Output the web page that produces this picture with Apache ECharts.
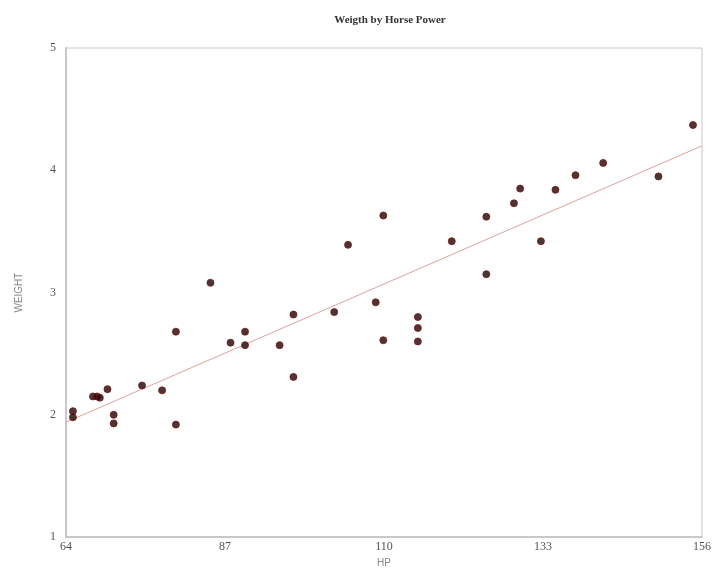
<!DOCTYPE html>
<html>
<head>
<meta charset="utf-8">
<script src="https://cdn.jsdelivr.net/npm/echarts@6/dist/echarts.min.js"></script>
<style>
  html, body { margin: 0; padding: 0; background: #fff; }
  #chart { width: 714px; height: 573px; }
</style>
</head>
<body>
<div id="chart"></div>
<script>
// HP vs weight (thousands of lbs)
const hp = [65, 65, 67.9, 68.5, 68.9, 70, 70.9, 70.9, 75, 77.9, 79.9, 79.9, 84.9, 87.8, 89.9, 89.9,
  94.9, 96.9, 96.9, 102.8, 104.8, 108.8, 109.9, 109.9, 114.9, 114.9, 114.9, 119.8, 124.8, 124.8,
  128.8, 129.7, 132.7, 134.8, 137.7, 141.7, 149.7, 154.7];
const weight = [2.03, 1.98, 2.15, 2.15, 2.14, 2.21, 2.0, 1.93, 2.24, 2.2, 2.68, 1.92, 3.08, 2.59, 2.68, 2.57,
  2.57, 2.82, 2.31, 2.84, 3.39, 2.92, 3.63, 2.61, 2.8, 2.71, 2.6, 3.42, 3.62, 3.15,
  3.73, 3.85, 3.42, 3.84, 3.96, 4.06, 3.95, 4.37];
// fitted line end points as drawn
const fitHp = [64, 156];
const fitWeight = [1.94, 4.2];
const xTicks = [64, 87, 110, 133, 156];
const yTicks = [1, 2, 3, 4, 5];

const chart = echarts.init(document.getElementById("chart"));

const TEXT = "#555";
const FRAME = "#c8c8c8";

chart.setOption({
  animation: false,
  title: {
    text: "Weigth by Horse Power",
    left: 385,
    textAlign: "center",
    top: 10,
    textStyle: { fontFamily: "Liberation Serif", fontSize: 11, fontWeight: "bold", color: "#333" }
  },
  grid: { left: 66, right: 10, top: 48, bottom: 32, show: true, borderColor: FRAME, borderWidth: 1 },
  xAxis: {
    type: "value",
    min: 64,
    max: 156,
    interval: 23,
    name: "HP",
    nameLocation: "middle",
    nameGap: 18,
    nameTextStyle: { color: "#888", fontSize: 10, fontFamily: "Liberation Sans" },
    axisLine: { lineStyle: { color: FRAME, width: 2 } },
    axisTick: { show: false },
    splitLine: { show: false },
    axisLabel: {
      color: TEXT, fontSize: 12, fontFamily: "Liberation Serif", margin: 4,
      formatter: v => xTicks.includes(v) ? String(v) : ""
    }
  },
  yAxis: {
    type: "value",
    min: 1,
    max: 5,
    interval: 1,
    name: "WEIGHT",
    nameLocation: "middle",
    nameGap: 42,
    nameTextStyle: { color: "#888", fontSize: 10, fontFamily: "Liberation Sans" },
    axisLine: { show: true, lineStyle: { color: FRAME, width: 2 } },
    axisTick: { show: false },
    splitLine: { show: false },
    axisLabel: {
      color: TEXT, fontSize: 12, fontFamily: "Liberation Serif", margin: 10,
      formatter: v => yTicks.includes(v) ? String(v) : ""
    }
  },
  series: [
    {
      type: "line",
      data: fitHp.map((x, i) => [x, fitWeight[i]]),
      symbol: "none",
      lineStyle: { color: "#e0a0a0", width: 1 },
      z: 1
    },
    {
      type: "scatter",
      data: hp.map((x, i) => [x, weight[i]]),
      symbol: "circle",
      symbolSize: 7,
      itemStyle: { color: "#1e0404", borderColor: "#7a1414", borderWidth: 1 },
      z: 2
    }
  ]
});
</script>
</body>
</html>
